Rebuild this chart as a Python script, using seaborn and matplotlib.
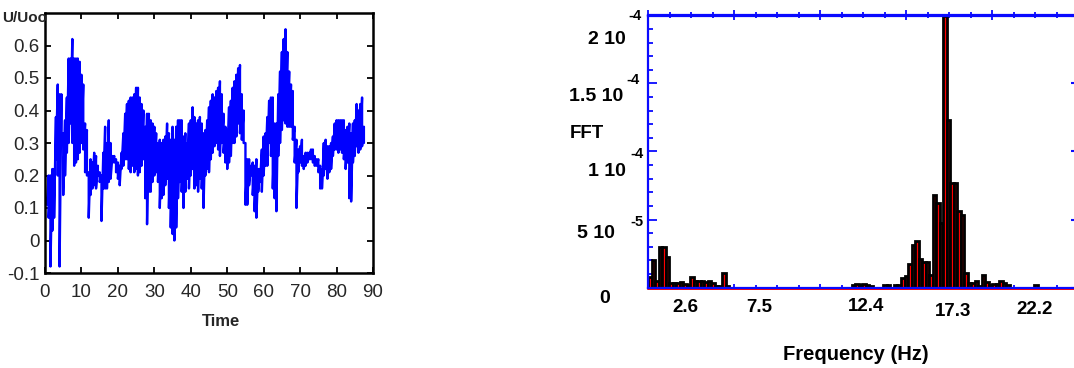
import numpy as np
import matplotlib
matplotlib.use("Agg")
import matplotlib.pyplot as plt
from matplotlib import font_manager
from matplotlib.ticker import MultipleLocator, NullFormatter
import seaborn as sns

# ---------------- data: velocity signal (upper / lower envelope of the oscillation) ----------------
time_s = [
    0.0, 0.5, 1.0, 1.5, 2.0, 2.5, 3.0, 3.5, 4.0, 4.5, 5.0, 5.5, 6.0, 6.5, 7.0, 7.5, 8.0, 8.5, 9.0, 9.5,
    10.0, 10.5, 11.0, 11.5, 12.0, 12.5, 13.0, 13.5, 14.0, 14.5, 15.0, 15.5, 16.0, 16.5, 17.0, 17.5, 18.0, 18.5, 19.0, 19.5,
    20.0, 20.5, 21.0, 21.5, 22.0, 22.5, 23.0, 23.5, 24.0, 24.5, 25.0, 25.5, 26.0, 26.5, 27.0, 27.5, 28.0, 28.5, 29.0, 29.5,
    30.0, 30.5, 31.0, 31.5, 32.0, 32.5, 33.0, 33.5, 34.0, 34.5, 35.0, 35.5, 36.0, 36.5, 37.0, 37.5, 38.0, 38.5, 39.0, 39.5,
    40.0, 40.5, 41.0, 41.5, 42.0, 42.5, 43.0, 43.5, 44.0, 44.5, 45.0, 45.5, 46.0, 46.5, 47.0, 47.5, 48.0, 48.5, 49.0, 49.5,
    50.0, 50.5, 51.0, 51.5, 52.0, 52.5, 53.0, 53.5, 54.0, 54.5, 55.0, 55.5, 56.0, 56.5, 57.0, 57.5, 58.0, 58.5, 59.0, 59.5,
    60.0, 60.5, 61.0, 61.5, 62.0, 62.5, 63.0, 63.5, 64.0, 64.5, 65.0, 65.5, 66.0, 66.5, 67.0, 67.5, 68.0, 68.5, 69.0, 69.5,
    70.0, 70.5, 71.0, 71.5, 72.0, 72.5, 73.0, 73.5, 74.0, 74.5, 75.0, 75.5, 76.0, 76.5, 77.0, 77.5, 78.0, 78.5, 79.0, 79.5,
    80.0, 80.5, 81.0, 81.5, 82.0, 82.5, 83.0, 83.5, 84.0, 84.5, 85.0, 85.5, 86.0, 86.5, 87.0, 87.5,
]
u_high = [
    0.13, 0.13, 0.20, 0.20, 0.22, 0.22, 0.38, 0.48, 0.45, 0.45, 0.33, 0.37, 0.44, 0.56, 0.56, 0.62, 0.56, 0.56, 0.56, 0.55,
    0.51, 0.48, 0.36, 0.34, 0.21, 0.25, 0.24, 0.27, 0.26, 0.23, 0.21, 0.20, 0.27, 0.35, 0.30, 0.37, 0.30, 0.26, 0.26, 0.25,
    0.24, 0.23, 0.27, 0.33, 0.39, 0.42, 0.43, 0.44, 0.44, 0.45, 0.47, 0.47, 0.44, 0.42, 0.40, 0.35, 0.39, 0.39, 0.37, 0.36,
    0.35, 0.33, 0.30, 0.31, 0.30, 0.31, 0.32, 0.36, 0.33, 0.31, 0.35, 0.31, 0.35, 0.37, 0.37, 0.37, 0.32, 0.33, 0.30, 0.36,
    0.37, 0.41, 0.38, 0.36, 0.37, 0.38, 0.36, 0.33, 0.34, 0.37, 0.41, 0.43, 0.45, 0.44, 0.46, 0.47, 0.49, 0.45, 0.39, 0.35,
    0.34, 0.41, 0.43, 0.47, 0.49, 0.51, 0.53, 0.54, 0.45, 0.40, 0.30, 0.25, 0.25, 0.23, 0.24, 0.23, 0.25, 0.22, 0.22, 0.28,
    0.32, 0.33, 0.38, 0.43, 0.44, 0.44, 0.36, 0.36, 0.45, 0.52, 0.58, 0.62, 0.65, 0.58, 0.52, 0.48, 0.46, 0.35, 0.31, 0.28,
    0.29, 0.31, 0.26, 0.27, 0.27, 0.27, 0.28, 0.28, 0.26, 0.25, 0.25, 0.23, 0.22, 0.30, 0.31, 0.29, 0.29, 0.30, 0.32, 0.36,
    0.37, 0.37, 0.37, 0.37, 0.37, 0.34, 0.35, 0.36, 0.33, 0.36, 0.37, 0.42, 0.40, 0.42, 0.44, 0.35,
]
u_low = [
    0.12, 0.11, 0.07, -0.08, 0.03, 0.07, 0.25, 0.20, -0.08, 0.30, 0.14, 0.20, 0.27, 0.30, 0.36, 0.30, 0.23, 0.24, 0.25, 0.27,
    0.30, 0.28, 0.21, 0.20, 0.07, 0.14, 0.16, 0.17, 0.16, 0.20, 0.18, 0.06, 0.16, 0.16, 0.16, 0.18, 0.19, 0.24, 0.24, 0.21,
    0.19, 0.17, 0.22, 0.23, 0.25, 0.25, 0.22, 0.21, 0.23, 0.21, 0.22, 0.20, 0.21, 0.23, 0.25, 0.13, 0.05, 0.15, 0.15, 0.18,
    0.20, 0.21, 0.18, 0.10, 0.13, 0.14, 0.17, 0.19, 0.10, 0.04, 0.02, 0.00, 0.04, 0.13, 0.18, 0.15, 0.10, 0.15, 0.19, 0.16,
    0.20, 0.22, 0.16, 0.17, 0.15, 0.19, 0.16, 0.10, 0.20, 0.22, 0.21, 0.25, 0.27, 0.29, 0.30, 0.28, 0.26, 0.30, 0.27, 0.24,
    0.22, 0.24, 0.26, 0.30, 0.30, 0.32, 0.36, 0.33, 0.31, 0.30, 0.11, 0.11, 0.17, 0.20, 0.14, 0.09, 0.07, 0.15, 0.18, 0.15,
    0.20, 0.23, 0.23, 0.30, 0.26, 0.16, 0.13, 0.09, 0.26, 0.30, 0.34, 0.37, 0.36, 0.35, 0.35, 0.35, 0.31, 0.24, 0.10, 0.21,
    0.24, 0.23, 0.22, 0.23, 0.24, 0.25, 0.25, 0.24, 0.23, 0.23, 0.21, 0.16, 0.16, 0.20, 0.22, 0.19, 0.21, 0.22, 0.26, 0.28,
    0.28, 0.27, 0.28, 0.27, 0.25, 0.22, 0.24, 0.13, 0.12, 0.24, 0.26, 0.29, 0.27, 0.28, 0.29, 0.30,
]
time_ticks = [0, 10, 20, 30, 40, 50, 60, 70, 80, 90]
u_ticks = [-0.1, 0.0, 0.1, 0.2, 0.3, 0.4, 0.5, 0.6]
u_tick_labels = ["-0.1", "0", "0.1", "0.2", "0.3", "0.4", "0.5", "0.6"]

# ---------------- data: FFT amplitude spectrum (0.2 Hz bins, bin centres) ----------------
fft_freq = [
    0.1, 0.3, 0.5, 0.7, 0.9, 1.1, 1.3, 1.5, 1.7, 1.9, 2.1, 2.3, 2.5, 2.7, 2.9, 3.1, 3.3, 3.5, 3.7, 3.9,
    4.1, 4.3, 4.5,
    11.7, 11.9, 12.1, 12.3, 12.5, 12.7, 13.5, 13.7,
    14.1, 14.3, 14.5, 14.7, 14.9, 15.1, 15.3, 15.5, 15.7, 15.9, 16.1, 16.3, 16.5, 16.7, 16.9, 17.1, 17.3, 17.5,
    17.7, 17.9, 18.1, 18.3, 18.5, 18.7, 18.9, 19.1, 19.3, 19.5, 19.7, 19.9, 20.1, 20.3, 20.5, 22.1,
]
fft_amp = [
    0.80e-5, 2.00e-5, 0.50e-5, 3.00e-5, 3.00e-5, 2.26e-5, 0.30e-5, 0.35e-5, 0.30e-5, 0.38e-5, 0.25e-5, 0.20e-5,
    0.80e-5, 0.50e-5, 0.50e-5, 0.50e-5, 0.40e-5, 0.48e-5, 0.30e-5, 0.10e-5, 0.10e-5, 1.04e-5, 0.10e-5,
    0.20e-5, 0.25e-5, 0.15e-5, 0.25e-5, 0.20e-5, 0.10e-5, 0.20e-5, 0.15e-5,
    0.15e-5, 0.20e-5, 0.68e-5, 0.85e-5, 1.70e-5, 3.10e-5, 3.44e-5, 2.07e-5, 1.90e-5, 1.85e-5, 0.92e-5, 6.80e-5,
    6.19e-5, 4.76e-5, 20.0e-5, 12.3e-5, 7.66e-5, 7.66e-5, 5.65e-5, 5.33e-5, 1.04e-5, 0.35e-5, 0.30e-5, 0.48e-5,
    0.10e-5, 0.92e-5, 0.40e-5, 0.20e-5, 0.25e-5, 0.25e-5, 0.48e-5, 0.35e-5, 0.15e-5, 0.20e-5,
]
fft_tick_labels = ["2.6", "7.5", "12.4", "17.3", "22.2"]
fft_ytick_base = ["0", "5 10", "1 10", "1.5 10", "2 10"]
fft_ytick_exp = ["", "-5", "-4", "-4", "-4"]

# ---------------- style ----------------
sns.set_style("white")
names = {f.name for f in font_manager.fontManager.ttflist}
SANS = "Liberation Sans" if "Liberation Sans" in names else "DejaVu Sans"
NARROW = "Liberation Sans Narrow" if "Liberation Sans Narrow" in names else SANS
plt.rcParams["font.family"] = [SANS, "DejaVu Sans"]

W, H = 1074, 368
fig = plt.figure(figsize=(W / 100, H / 100), dpi=100)
fig.patch.set_facecolor("white")


def fx(px):
    return px / W


def fy(py):
    return 1 - py / H


BLUE = "#0a0aff"

# ---------------- left panel: time signal ----------------
ax1 = fig.add_axes([fx(45), fy(273), fx(373) - fx(45), fy(13) - fy(273)])
t_zig = np.repeat(np.asarray(time_s), 2)
u_zig = np.column_stack([u_high, u_low]).ravel()
sns.lineplot(x=t_zig, y=u_zig, sort=False, estimator=None, color="#0000ff",
             linewidth=1.7, ax=ax1)
ax1.set_xlim(0, 90)
ax1.set_ylim(-0.1, 0.7)
ax1.set_xticks(time_ticks)
ax1.set_xticklabels([str(v) for v in time_ticks], fontfamily=NARROW, fontsize=13.5)
ax1.set_yticks(u_ticks)
ax1.set_yticklabels(u_tick_labels, fontfamily=NARROW, fontsize=13.5)
ax1.tick_params(axis="both", direction="in", length=4, width=1.3, color="black",
                top=True, right=True, bottom=True, left=True)
ax1.tick_params(axis="x", pad=8)
ax1.tick_params(axis="y", pad=4)
for s in ax1.spines.values():
    s.set_color("black")
    s.set_linewidth(1.8)
ax1.set_xlabel("")
ax1.set_ylabel("")
fig.text(fx(221), fy(322), "Time", ha="center", va="center", fontfamily=NARROW,
         fontweight="bold", fontsize=12)
fig.text(fx(47), fy(18), "U/Uoo", ha="right", va="center", fontfamily=NARROW,
         fontweight="bold", fontsize=11)

# ---------------- right panel: FFT spectrum ----------------
ax2 = fig.add_axes([fx(648.3), fy(287.5), fx(1073.5) - fx(648.3), fy(15.5) - fy(287.5)])
sns.histplot(x=fft_freq, weights=fft_amp, binwidth=0.2, binrange=(0, 24.2),
             color="red", alpha=1, edgecolor="black", linewidth=2.0, ax=ax2)
ax2.axhline(-1.3e-6, color="red", linewidth=1.4, clip_on=False, zorder=0.5)
ax2.set_xlim(0, 24.23)
ax2.set_ylim(0, 2.0e-4)
ax2.set_xlabel("")
ax2.set_ylabel("")
ax2.xaxis.set_major_locator(MultipleLocator(4.9))
ax2.xaxis.set_minor_locator(MultipleLocator(1.225))
ax2.yaxis.set_major_locator(MultipleLocator(5e-5))
ax2.yaxis.set_minor_locator(MultipleLocator(1e-5))
ax2.xaxis.set_major_formatter(NullFormatter())
ax2.yaxis.set_major_formatter(NullFormatter())
ax2.tick_params(axis="x", which="major", direction="in", length=3, width=1.3, color=BLUE,
                bottom=True, top=False)
ax2.tick_params(axis="x", which="minor", direction="in", length=2, width=1.3, color=BLUE,
                bottom=True, top=False)
ax2.tick_params(axis="y", which="major", direction="in", length=6.5, width=1.3, color=BLUE,
                left=True, right=False)
ax2.tick_params(axis="y", which="minor", direction="in", length=3.8, width=1.3, color=BLUE,
                left=True, right=False)
for s in ax2.spines.values():
    s.set_color(BLUE)
    s.set_linewidth(1.6)
ax2.spines["right"].set_visible(False)

top = ax2.secondary_xaxis("top")
top.xaxis.set_major_locator(MultipleLocator(4.9))
top.xaxis.set_minor_locator(MultipleLocator(1.225))
top.xaxis.set_major_formatter(NullFormatter())
top.tick_params(which="major", direction="inout", length=7, width=1.3, color=BLUE)
top.tick_params(which="minor", direction="inout", length=5, width=1.3, color=BLUE)
top.spines["top"].set_color(BLUE)
top.spines["top"].set_linewidth(1.6)

right = ax2.secondary_yaxis("right")
right.yaxis.set_major_locator(MultipleLocator(5e-5))
right.yaxis.set_minor_locator(MultipleLocator(1e-5))
right.yaxis.set_major_formatter(NullFormatter())
right.tick_params(which="major", direction="in", length=2, width=1.5, color=BLUE)
right.tick_params(which="minor", length=0)
right.spines["right"].set_visible(False)

# tick labels of the spectrum (base + exponent written separately)
BOLD = dict(fontfamily=SANS, fontweight="bold", color="black")
xlab_px = [685.7, 759.3, 865.7, 953.3, 1034.3]
xlab_py = [307, 307, 306.5, 311, 309.5]
for lab, px, py in zip(fft_tick_labels, xlab_px, xlab_py):
    fig.text(fx(px), fy(py), lab, ha="center", va="center", fontsize=13.5, **BOLD)

base_right_px = [610, 615, 625.7, 623.3, 625.7]
base_py = [298.3, 233.3, 171.7, 96.7, 39.3]
exp_left_px = [None, 630, 630, 626.7, 628]
exp_py = [None, 221.7, 154, 80, 16]
for b, e, bx, by, ex, ey in zip(fft_ytick_base, fft_ytick_exp, base_right_px, base_py,
                                exp_left_px, exp_py):
    fig.text(fx(bx), fy(by), b, ha="right", va="center", fontsize=14, **BOLD)
    if e:
        fig.text(fx(ex), fy(ey), e, ha="left", va="center", fontsize=10.5, **BOLD)

fig.text(fx(586.5), fy(133.3), "FFT", ha="center", va="center", fontsize=13.5, **BOLD)
fig.text(fx(856), fy(355), "Frequency (Hz)", ha="center", va="center", fontsize=14.5, **BOLD)

fig.savefig("out.png", dpi=100, facecolor="white")
